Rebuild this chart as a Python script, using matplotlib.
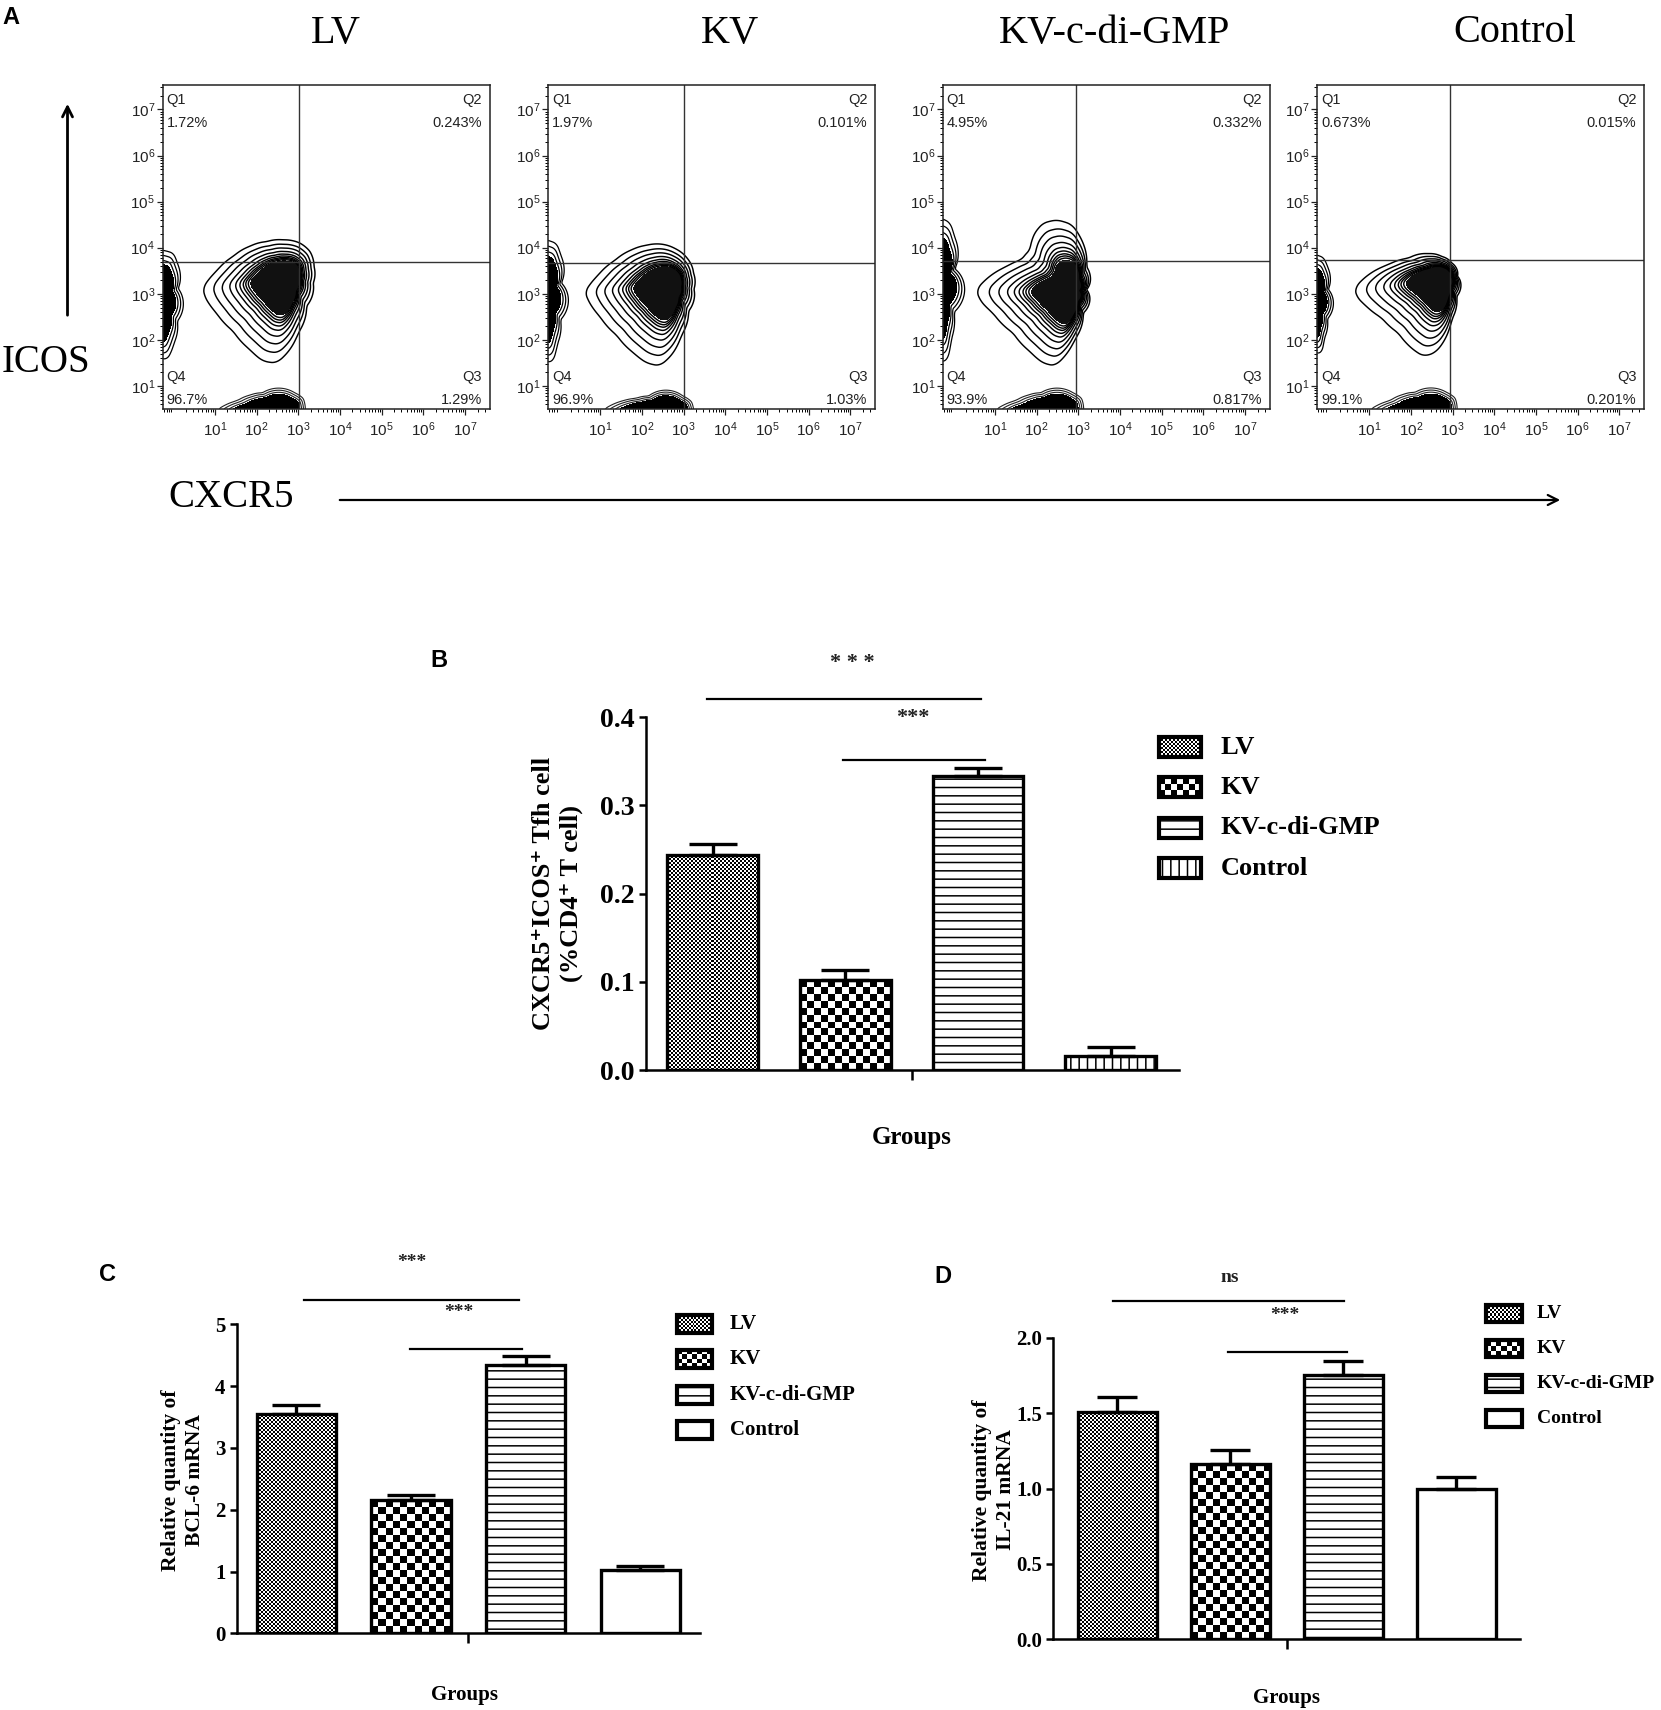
import numpy as np
import matplotlib
matplotlib.use('Agg')
import matplotlib.pyplot as plt
from matplotlib.patches import Rectangle
from matplotlib.ticker import FixedLocator, LogLocator, LogFormatterSciNotation, NullFormatter

W, H = 1661, 1710
SERIF = ['Liberation Serif', 'DejaVu Serif']
SANS = ['Liberation Sans', 'DejaVu Sans']
plt.rcParams['font.family'] = SANS
plt.rcParams['mathtext.default'] = 'regular'
plt.rcParams['hatch.linewidth'] = 1.1

# ---------------- data ----------------
groups = ['LV', 'KV', 'KV-c-di-GMP', 'Control']

# Panel A : quadrant percentages
q1_pct = ['1.72%', '1.97%', '4.95%', '0.673%']
q2_pct = ['0.243%', '0.101%', '0.332%', '0.015%']
q3_pct = ['1.29%', '1.03%', '0.817%', '0.201%']
q4_pct = ['96.7%', '96.9%', '93.9%', '99.1%']
gate_x_log = [3.01, 3.00, 2.95, 2.94]
gate_y_log = [3.69, 3.67, 3.71, 3.74]

# outer contour of the main population (log10 CXCR5, log10 ICOS)
lv_outline = [(0.72, 3.13), (1.04, 3.49), (1.44, 3.81), (1.84, 4.03), (2.24, 4.13), (2.64, 4.17),
              (3.04, 4.10), (3.28, 3.92), (3.38, 3.59), (3.36, 3.23), (3.20, 2.73), (3.00, 2.15),
              (2.80, 1.79), (2.48, 1.50), (2.16, 1.54), (1.84, 1.79), (1.44, 2.19), (1.04, 2.58),
              (0.76, 2.94)]
kv_outline = [(0.64, 3.04), (0.95, 3.40), (1.35, 3.72), (1.75, 3.95), (2.10, 4.05), (2.43, 4.08),
              (2.80, 3.98), (3.08, 3.78), (3.24, 3.45), (3.25, 3.10), (3.12, 2.62), (2.95, 2.10),
              (2.72, 1.68), (2.43, 1.44), (2.12, 1.50), (1.80, 1.72), (1.40, 2.10), (1.00, 2.50),
              (0.72, 2.85)]
kvc_outline = [(0.56, 3.09), (0.88, 3.38), (1.28, 3.59), (1.64, 3.74), (1.84, 3.95), (1.96, 4.32),
               (2.16, 4.53), (2.48, 4.60), (2.84, 4.50), (3.08, 4.17), (3.20, 3.59), (3.20, 3.09),
               (3.12, 2.58), (2.92, 2.01), (2.68, 1.65), (2.44, 1.44), (2.16, 1.50), (1.84, 1.75),
               (1.44, 2.15), (0.96, 2.58), (0.64, 2.87)]
ctrl_outline = [(0.66, 3.13), (0.98, 3.41), (1.46, 3.63), (1.94, 3.77), (2.41, 3.87), (2.74, 3.81),
                (2.98, 3.67), (3.12, 3.38), (3.10, 2.94), (2.98, 2.44), (2.82, 2.01), (2.58, 1.72),
                (2.30, 1.65), (2.06, 1.79), (1.70, 2.15), (1.30, 2.48), (0.90, 2.76), (0.70, 2.94)]
main_outlines = [lv_outline, kv_outline, kvc_outline, ctrl_outline]
main_centers = [(2.75, 3.35), (2.70, 3.20), (2.90, 3.05), (2.85, 3.35)]
# left-edge population: (bottom log, top log, right log)
left_pops = [(1.57, 3.95, 0.10), (1.50, 4.17, 0.05), (1.50, 4.64, 0.02), (1.70, 3.85, 0.00)]
# bottom-edge population: (left log, right log, top log)
bottom_pops = [(1.04, 3.12, 0.85), (1.06, 3.19, 0.78), (1.00, 3.08, 0.85), (1.00, 3.06, 0.86)]

# Panel B
b_values = [0.244, 0.102, 0.333, 0.016]
b_errors = [0.012, 0.011, 0.010, 0.010]
b_yticks = [0.0, 0.1, 0.2, 0.3, 0.4]
b_yticklabels = ['0.0', '0.1', '0.2', '0.3', '0.4']
# Panel C
c_values = [3.55, 2.15, 4.34, 1.02]
c_errors = [0.15, 0.09, 0.145, 0.07]
c_yticks = [0, 1, 2, 3, 4, 5]
c_yticklabels = ['0', '1', '2', '3', '4', '5']
# Panel D
d_values = [1.51, 1.16, 1.75, 1.00]
d_errors = [0.10, 0.097, 0.097, 0.073]
d_yticks = [0.0, 0.5, 1.0, 1.5, 2.0]
d_yticklabels = ['0.0', '0.5', '1.0', '1.5', '2.0']

# significance brackets: (x_start, x_end, y, label, label_x, label_y)
b_sig = [(-0.04, 2.02, 0.4206, '* * *', 1.05, 0.4618), (0.98, 2.05, 0.3515, '***', 1.51, 0.3994)]
c_sig = [(0.07, 1.94, 5.39, '***', 1.006, 6.0), (0.99, 1.97, 4.605, '***', 1.42, 5.19)]
d_sig = [(-0.04, 2.01, 2.245, 'ns', 1.0, 2.40), (0.98, 2.03, 1.907, '***', 1.485, 2.15)]

# ---------------- helpers ----------------
fig = plt.figure(figsize=(W / 100, H / 100), dpi=100)


def to_fig(b):
    x0, y0, x1, y1 = b
    return [x0 / W, 1 - y1 / H, (x1 - x0) / W, (y1 - y0) / H]


def polar_field(outline, center, GX, GY, sx=41.7, sy=46.2, win=15):
    pts = np.asarray(outline, float)
    cx, cy = center
    px = (pts[:, 0] - cx) * sx
    py = (pts[:, 1] - cy) * sy
    ang = np.arctan2(py, px)
    rad = np.hypot(px, py)
    o = np.argsort(ang)
    ang, rad = ang[o], rad[o]
    ang3 = np.concatenate([ang - 2 * np.pi, ang, ang + 2 * np.pi])
    rad3 = np.tile(rad, 3)
    th = np.linspace(-np.pi, np.pi, 721)[:-1]
    R = np.interp(th, ang3, rad3)
    k = np.ones(win) / win
    Rp = np.concatenate([R[-win:], R, R[:win]])
    Rs = np.convolve(Rp, k, mode='same')[win:-win]
    th3 = np.concatenate([th - 2 * np.pi, th, th + 2 * np.pi])
    Rs3 = np.tile(Rs, 3)
    dx = (GX - cx) * sx
    dy = (GY - cy) * sy
    t = np.arctan2(dy, dx)
    Rg = np.interp(t.ravel(), th3, Rs3).reshape(t.shape)
    return np.hypot(dx, dy) / Rg


def left_outline(yb, yt, xr):
    h = yt - yb
    pts = [(-0.3, yt), (xr - 0.1, yt - 0.03 * h), (xr, yt - 0.12 * h), (xr + 0.02, yt - 0.35 * h),
           (xr, yb + 0.35 * h), (xr - 0.08, yb + 0.15 * h), (-0.15, yb), (-0.5, yb + 0.05 * h),
           (-0.9, yb + 0.5 * h), (-0.5, yt)]
    return pts, (-0.4, yb + 0.55 * h)


def bottom_outline(x0, x1, yt):
    L = x1 - x0
    pts = [(x0, 0.47), (x0 + 0.2, 0.58), (x0 + 0.5, 0.68), (x0 + 0.8, yt - 0.05), (x0 + 1.1, yt),
           (x1 - 0.2, yt), (x1, yt - 0.12), (x1 + 0.05, 0.5), (x1, 0.15), (x0 + 0.9, 0.0),
           (x0 + 0.2, 0.3)]
    return pts, (x0 + 0.72 * L, 0.3)


def checker(ax, rect, cell_px, pxx, pxy):
    x0 = rect.get_x(); y0 = rect.get_y()
    w = rect.get_width(); h = rect.get_height()
    nx = max(1, int(round(abs(w * pxx) / cell_px)))
    ny = max(1, int(round(abs(h * pxy) / cell_px)))
    arr = np.add.outer(np.arange(ny), np.arange(nx)) % 2
    im = ax.imshow(arr, extent=(x0, x0 + w, y0, y0 + h), origin='lower', cmap='gray',
                   vmin=0, vmax=1, interpolation='nearest', aspect='auto', zorder=rect.get_zorder() + 0.5)
    im.set_clip_path(rect)
    return im


# overlay for free text / arrows / legends (pixel coordinates)
ax_ov = fig.add_axes([0, 0, 1, 1], zorder=10)
ax_ov.set_facecolor('none')
ax_ov.set_axis_off()

# ---------------- Panel A ----------------
panel_lefts = [162.7, 548.0, 942.7, 1317.0]
panel_w = 327.3
panel_top, panel_bot = 85.0, 409.0
title_x = [336, 730, 1115, 1515]

gxg = np.linspace(-0.25, 4.3, 460)
gyg = np.linspace(0.5, 5.3, 480)
GX, GY = np.meshgrid(gxg, gyg)
X, Y = 10 ** GX, 10 ** GY

for i in range(4):
    L = panel_lefts[i]
    ax = fig.add_axes(to_fig((L, panel_top, L + panel_w, panel_bot)))
    ax.set_xscale('log'); ax.set_yscale('log')
    # main population
    r = polar_field(main_outlines[i], main_centers[i], GX, GY)
    ax.contourf(X, Y, r, levels=[0, 0.44], colors=['#111111'])
    ax.contour(X, Y, r, levels=[0.47, 0.5, 0.53, 0.57, 0.62, 0.69, 0.78, 0.88, 1.0],
               colors='black', linewidths=1.05)
    # left population
    pts, c = left_outline(*left_pops[i])
    r = polar_field(pts, c, GX, GY)
    ax.contourf(X, Y, r, levels=[0, 0.72], colors=['black'])
    ax.contour(X, Y, r, levels=[0.8, 0.9, 1.0], colors='black', linewidths=0.9)
    # bottom population
    pts, c = bottom_outline(*bottom_pops[i])
    r = polar_field(pts, c, GX, GY)
    ax.contourf(X, Y, r, levels=[0, 0.8], colors=['black'])
    ax.contour(X, Y, r, levels=[0.86, 0.93, 1.0], colors='#222222', linewidths=0.8)

    ax.axvline(10 ** gate_x_log[i], color='#333333', lw=1.0)
    ax.axhline(10 ** gate_y_log[i], color='#333333', lw=1.0)
    ax.set_xlim(10 ** -0.25, 10 ** 7.6)
    ax.set_ylim(10 ** 0.5, 10 ** 7.53)
    for s in ax.spines.values():
        s.set_linewidth(1.1); s.set_color('#222222')
    for axis in (ax.xaxis, ax.yaxis):
        axis.set_major_locator(FixedLocator(10.0 ** np.arange(1, 8)))
        axis.set_major_formatter(LogFormatterSciNotation())
        axis.set_minor_locator(LogLocator(base=10, subs=np.arange(2, 10), numticks=30))
        axis.set_minor_formatter(NullFormatter())
    ax.tick_params(which='major', direction='out', length=4, width=0.9, labelsize=11, colors='#222222')
    ax.tick_params(which='minor', direction='out', length=2, width=0.7)
    ax.tick_params(axis='x', which='major', pad=4)
    ax.tick_params(axis='y', which='major', pad=1.5)

    # quadrant labels
    R_ = L + panel_w - 8
    qfs = 10.5
    ax_ov.text(L + 4, 100, 'Q1', ha='left', va='center', fontsize=qfs, color='#222222')
    ax_ov.text(L + 4, 123, q1_pct[i], ha='left', va='center', fontsize=qfs, color='#222222')
    ax_ov.text(R_, 100, 'Q2', ha='right', va='center', fontsize=qfs, color='#222222')
    ax_ov.text(R_, 123, q2_pct[i], ha='right', va='center', fontsize=qfs, color='#222222')
    ax_ov.text(L + 4, 377, 'Q4', ha='left', va='center', fontsize=qfs, color='#222222')
    ax_ov.text(L + 4, 400, q4_pct[i], ha='left', va='center', fontsize=qfs, color='#222222')
    ax_ov.text(R_, 377, 'Q3', ha='right', va='center', fontsize=qfs, color='#222222')
    ax_ov.text(R_, 400, q3_pct[i], ha='right', va='center', fontsize=qfs, color='#222222')

    ax_ov.text(title_x[i], 33, groups[i], ha='center', va='center', fontsize=29, family=SERIF)

ax_ov.text(11, 17, 'A', ha='center', va='center', fontsize=17, fontweight='bold', family=SANS)
ax_ov.text(2, 363, 'ICOS', ha='left', va='center', fontsize=28, family=SERIF)
ax_ov.annotate('', xy=(67.5, 101), xytext=(67.5, 318),
               arrowprops=dict(arrowstyle='->', lw=2.0, color='black', mutation_scale=18))
ax_ov.text(168, 497, 'CXCR5', ha='left', va='center', fontsize=28, family=SERIF)
ax_ov.annotate('', xy=(1563, 500), xytext=(337, 500),
               arrowprops=dict(arrowstyle='->', lw=1.6, color='black', mutation_scale=18))


# ---------------- Bar panels ----------------
def bar_panel(box, xlim, ylim, yticks, yticklabels, values, errors, width, patterns,
              capsize, tick_fs, sig, star_fs):
    ax = fig.add_axes(to_fig(box))
    ax.set_facecolor('none')
    x = np.arange(len(values))
    ax.set_xlim(xlim); ax.set_ylim(ylim)
    fills = ax.bar(x, values, width, color='white', edgecolor='black', linewidth=0, zorder=1)
    pxx = (box[2] - box[0]) / (xlim[1] - xlim[0])
    pxy = (box[3] - box[1]) / (ylim[1] - ylim[0])
    for rect, pat in zip(fills, patterns):
        if pat == 'fine':
            checker(ax, rect, 2, pxx, pxy)
        elif pat == 'coarse':
            checker(ax, rect, 7, pxx, pxy)
        elif pat == 'hlines':
            rect.set_hatch('--')
        elif pat == 'vlines':
            rect.set_hatch('||')
    ax.bar(x, values, width, fill=False, edgecolor='black', linewidth=2.4, zorder=3)
    ax.errorbar(x, values, yerr=[np.zeros(len(values)), errors], fmt='none', ecolor='black',
                elinewidth=2.4, capsize=capsize, capthick=2.4, zorder=3.5)
    ax.set_xlim(xlim); ax.set_ylim(ylim)
    ax.spines['top'].set_visible(False); ax.spines['right'].set_visible(False)
    for s in ('left', 'bottom'):
        ax.spines[s].set_linewidth(1.8)
    ax.set_yticks(yticks)
    ax.set_yticklabels(yticklabels, fontsize=tick_fs, fontweight='bold', family=SERIF)
    ax.tick_params(axis='y', direction='out', length=5, width=1.8, pad=3)
    ax.set_xticks([1.5]); ax.set_xticklabels([''])
    ax.tick_params(axis='x', direction='out', length=7, width=1.8)
    for (xa, xb, yy, lab, lx, ly) in sig:
        ax.plot([xa, xb], [yy, yy], color='black', lw=1.6, clip_on=False)
        ax.text(lx, ly, lab, ha='center', va='center', fontsize=star_fs, fontweight='bold',
                family=SERIF, clip_on=False, color='#222222')
    return ax


bar_panel((645.7, 717.3, 1179.0, 1070.0), (-0.506, 3.516), (0, 0.4), b_yticks, b_yticklabels,
          b_values, b_errors, 0.686, ['fine', 'coarse', 'hlines', 'vlines'], 17, 20, b_sig, 16)
bar_panel((236.7, 1324.3, 699.9, 1633.3), (-0.52, 3.52), (0, 5), c_yticks, c_yticklabels,
          c_values, c_errors, 0.69, ['fine', 'coarse', 'hlines', 'plain'], 17, 15, c_sig, 14)
bar_panel((1053.3, 1337.7, 1520.0, 1639.3), (-0.565, 3.565), (0, 2.0), d_yticks, d_yticklabels,
          d_values, d_errors, 0.70, ['fine', 'coarse', 'hlines', 'plain'], 14.5, 15, d_sig, 14)

# panel letters and axis titles
ax_ov.text(439, 660, 'B', ha='center', va='center', fontsize=17, fontweight='bold', family=SANS)
ax_ov.text(107, 1274, 'C', ha='center', va='center', fontsize=17, fontweight='bold', family=SANS)
ax_ov.text(943, 1276, 'D', ha='center', va='center', fontsize=17, fontweight='bold', family=SANS)

ax_ov.text(557.5, 893, 'CXCR5\u207aICOS\u207a Tfh cell\n(%CD4\u207a T cell)', rotation=90,
           ha='center', va='center', multialignment='center', fontsize=19, fontweight='bold',
           family=SERIF, linespacing=1.3)
ax_ov.text(183.3, 1480, 'Relative quantity of\nBCL-6 mRNA', rotation=90, ha='center', va='center',
           multialignment='center', fontsize=15.5, fontweight='bold', family=SERIF, linespacing=1.25)
ax_ov.text(994, 1490, 'Relative quantity of\nIL-21 mRNA', rotation=90, ha='center', va='center',
           multialignment='center', fontsize=15.5, fontweight='bold', family=SERIF, linespacing=1.25)

ax_ov.text(912, 1137, 'Groups', ha='center', va='center', fontsize=18, fontweight='bold', family=SERIF)
ax_ov.text(464, 1695, 'Groups', ha='center', va='center', fontsize=15, fontweight='bold', family=SERIF)
ax_ov.text(1287, 1698, 'Groups', ha='center', va='center', fontsize=15, fontweight='bold', family=SERIF)


# legends
def draw_legend(x, ycs, w, h, patterns, tx, fs, coarse_cell):
    for yc, pat, lab in zip(ycs, patterns, groups):
        face = Rectangle((x, yc - h / 2), w, h, facecolor='white', edgecolor='black', lw=0, zorder=10.2)
        ax_ov.add_patch(face)
        if pat in ('fine', 'coarse'):
            cell = 2 if pat == 'fine' else coarse_cell
            nx = max(1, int(round(w / cell))); ny = max(1, int(round(h / cell)))
            arr = np.add.outer(np.arange(ny), np.arange(nx)) % 2
            im = ax_ov.imshow(arr, extent=(x, x + w, yc + h / 2, yc - h / 2), cmap='gray', vmin=0,
                              vmax=1, interpolation='nearest', aspect='auto', zorder=10.5)
            im.set_clip_path(face)
        elif pat == 'hlines':
            face.set_hatch('--')
        elif pat == 'vlines':
            face.set_hatch('||')
        edge = Rectangle((x, yc - h / 2), w, h, fill=False, edgecolor='black', lw=3.0, zorder=11)
        ax_ov.add_patch(edge)
        ax_ov.text(tx, yc, lab, ha='left', va='center', fontsize=fs, fontweight='bold', family=SERIF)


draw_legend(1159, [747, 787, 827.7, 868], 42, 20, ['fine', 'coarse', 'hlines', 'vlines'], 1220.7, 19, 6)
draw_legend(677, [1324, 1359, 1394.5, 1430], 35, 18, ['fine', 'coarse', 'hlines', 'plain'], 730, 15, 5)
draw_legend(1486.3, [1313.3, 1348.3, 1383.3, 1418.8], 36, 17, ['fine', 'coarse', 'hlines', 'plain'],
            1537, 14, 5)

ax_ov.set_xlim(0, W)
ax_ov.set_ylim(H, 0)

fig.savefig('out.png', dpi=100)
